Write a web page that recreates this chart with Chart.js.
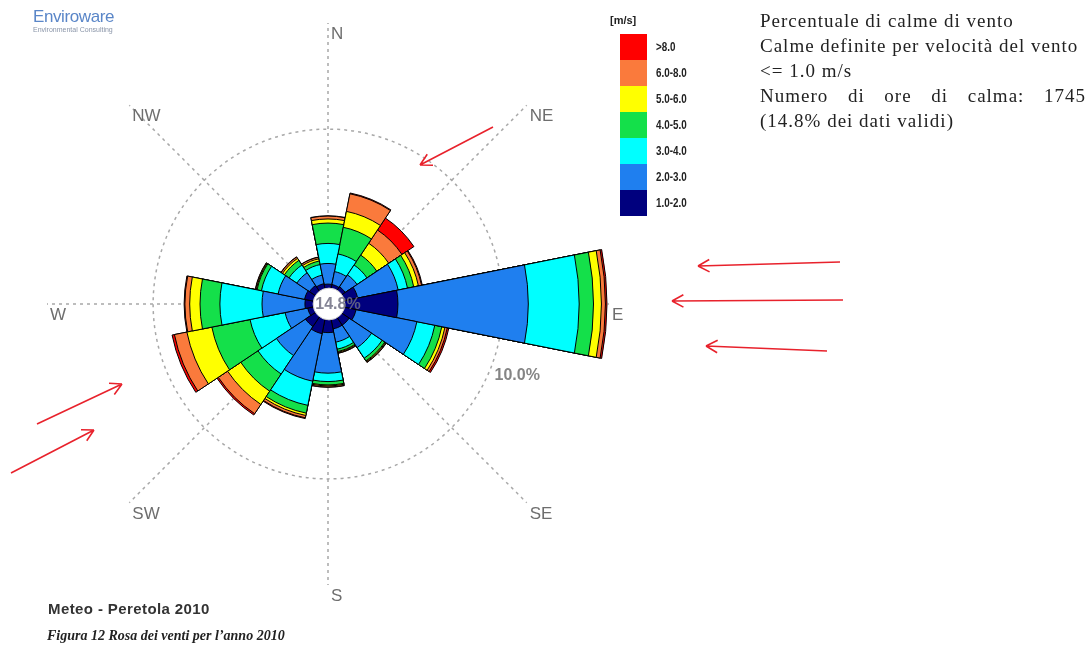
<!DOCTYPE html>
<html>
<head>
<meta charset="utf-8">
<script src="https://cdn.jsdelivr.net/npm/chart.js@4.4.0/dist/chart.umd.min.js"></script>
<style>
    body { margin: 0; background: #fff; width: 1089px; height: 651px; overflow: hidden; position: relative; font-family: "Liberation Sans", Arial, sans-serif; }
    #wrap { position: absolute; left: 0; top: 0; width: 1089px; height: 651px; }
    .logo { position: absolute; left: 33px; top: 8px; color: #5a86c8; font-size: 17px; letter-spacing: -0.4px; line-height: 18px; }
    .logo small { display: block; font-size: 7px; line-height: 8px; color: #8a95a8; letter-spacing: 0; }
    #legend { position: absolute; left: 610px; top: 14px; }
    #legend .unit { font-size: 11px; font-weight: bold; color: #222; margin-bottom: 8px; }
    #legend .row { display: flex; align-items: center; height: 26px; }
    #legend .sw { width: 27px; height: 26px; margin-left: 10px; }
    #legend .lab { font-size: 12px; font-weight: bold; color: #222; margin-left: 9px; transform: scaleX(0.82); transform-origin: left center; }
    .note { position: absolute; left: 760px; top: 8px; width: 326px; font-family: "Liberation Serif", "DejaVu Serif", serif; font-size: 19px; letter-spacing: 1px; line-height: 25px; color: #222; }
    .note .just { text-align: justify; text-align-last: justify; }
    .station { position: absolute; left: 48px; top: 600px; font-size: 15px; letter-spacing: 0.4px; font-weight: bold; color: #333; }
    .caption { position: absolute; left: 47px; top: 628px; font-family: "Liberation Serif", serif; font-style: italic; font-weight: bold; font-size: 14px; color: #222; }
</style>
</head>
<body>
<div id="wrap"><canvas id="rose"></canvas></div>
<div class="logo">Enviroware<small>Environmental Consulting</small></div>
<div id="legend"></div>
<div class="note">
    <div>Percentuale di calme di vento</div>
    <div>Calme definite per velocità del vento</div>
    <div>&lt;= 1.0 m/s</div>
    <div class="just">Numero di ore di calma: 1745</div>
    <div>(14.8% dei dati validi)</div>
</div>
<div class="station">Meteo - Peretola 2010</div>
<div class="caption">Figura 12 Rosa dei venti per l’anno 2010</div>
<script>
const directions = ['N', 'NNE', 'NE', 'ENE', 'E', 'ESE', 'SE', 'SSE', 'S', 'SSW', 'SW', 'WSW', 'W', 'WNW', 'NW', 'NNW'];
const compassLabels = ['N', 'NE', 'E', 'SE', 'S', 'SW', 'W', 'NW'];
const speedClasses = ['1.0-2.0', '2.0-3.0', '3.0-4.0', '4.0-5.0', '5.0-6.0', '6.0-8.0', '>8.0'];
const classColors = ['#00007e', '#1f7fef', '#00ffff', '#14e04a', '#ffff00', '#fa7a3c', '#ff0000'];

// frequency (%) per direction, one array per speed class
const speed1to2 = [0.25, 0.25, 0.30, 0.90, 3.40, 0.80, 0.60, 0.60, 0.80, 0.90, 0.70, 0.30, 0.45, 0.50, 0.40, 0.30];
const speed2to3 = [1.30, 0.83, 0.90, 2.60, 8.20, 3.90, 1.70, 0.85, 2.55, 3.05, 2.20, 1.45, 2.70, 1.70, 0.96, 0.55];
const speed3to4 = [1.26, 1.13, 0.75, 0.60, 3.20, 1.15, 0.80, 0.45, 0.53, 1.55, 1.40, 2.25, 2.65, 1.07, 0.59, 0.68];
const speed4to5 = [1.28, 1.71, 0.75, 0.40, 0.90, 0.45, 0.20, 0.15, 0.21, 0.50, 1.30, 2.45, 1.25, 0.28, 0.35, 0.23];
const speed5to6 = [0.26, 1.02, 0.90, 0.30, 0.50, 0.20, 0.05, 0.05, 0.06, 0.15, 1.00, 1.60, 0.65, 0.05, 0.15, 0.14];
const speed6to8 = [0.18, 1.13, 1.00, 0.20, 0.25, 0.15, 0.05, 0.05, 0.07, 0.15, 0.70, 0.80, 0.30, 0.05, 0.10, 0.10];
const speedOver8 = [0.02, 0.05, 0.90, 0.05, 0.10, 0.10, 0.02, 0.02, 0.02, 0.05, 0.10, 0.15, 0.05, 0.02, 0.02, 0.02];

const calmPct = 14.8;
const ringValue = 10;

// red hand-drawn arrows on the page: [x1, y1, x2 (head), y2 (head)]
const arrows = [
    [493, 127, 420, 165],
    [840, 262, 698, 266],
    [843, 300, 672, 301],
    [827, 351, 706, 346],
    [37, 424, 122, 384],
    [11, 473, 94, 430]
];

const classSeries = [speed1to2, speed2to3, speed3to4, speed4to5, speed5to6, speed6to8, speedOver8];

// stacked petals: cumulative totals, smallest class drawn on top
const running = directions.map(() => 0);
const datasets = classSeries.map((series, k) => ({
    label: speedClasses[k],
    data: series.map((v, i) => +(running[i] += v).toFixed(3)),
    backgroundColor: classColors[k],
    borderColor: '#000',
    borderWidth: 1
}));

// legend, top class first
document.getElementById('legend').innerHTML = '<div class="unit">[m/s]</div>' +
    speedClasses.map((c, k) => ({ c, col: classColors[k] })).reverse().map(o => `
        <div class="row"><div class="sw" style="background:${o.col}"></div><div class="lab">${o.c}</div></div>
    `).join('');

const roseDecor = {
    id: 'roseDecor',
    beforeDatasetsDraw(chart) {
        const s = chart.scales.r, ctx = chart.ctx;
        const cx = s.xCenter, cy = s.yCenter;
        const len = s.drawingArea - 19;
        ctx.save();
        ctx.strokeStyle = '#a8a8a8';
        ctx.lineWidth = 1.5;
        ctx.setLineDash([3, 4]);
        compassLabels.forEach((lab, i) => {
            const a = i * Math.PI / 4;
            ctx.beginPath();
            ctx.moveTo(cx, cy);
            ctx.lineTo(cx + len * Math.sin(a), cy - len * Math.cos(a));
            ctx.stroke();
        });
        const rr = s.getDistanceFromCenterForValue(ringValue);
        ctx.beginPath();
        ctx.arc(cx, cy, rr, 0, Math.PI * 2);
        ctx.stroke();
        ctx.setLineDash([]);
        const a10 = 112.5 * Math.PI / 180;
        ctx.fillStyle = '#858585';
        ctx.font = 'bold 16px "Liberation Sans", Arial';
        ctx.textAlign = 'left';
        ctx.textBaseline = 'top';
        ctx.fillText(ringValue.toFixed(1) + '%', cx + rr * Math.sin(a10) + 5, cy - rr * Math.cos(a10) - 3);
        ctx.restore();
    },
    afterDatasetsDraw(chart) {
        const s = chart.scales.r, ctx = chart.ctx;
        const cx = s.xCenter, cy = s.yCenter;
        const len = s.drawingArea - 19;
        ctx.save();
        // calm circle
        const r0 = s.getDistanceFromCenterForValue(0);
        ctx.beginPath();
        ctx.arc(cx + 1, cy, r0, 0, Math.PI * 2);
        ctx.fillStyle = '#fff';
        ctx.fill();
        ctx.strokeStyle = '#ccc';
        ctx.lineWidth = 1;
        ctx.stroke();
        ctx.fillStyle = 'rgba(110,110,130,0.85)';
        ctx.font = 'bold 16px "Liberation Sans", Arial';
        ctx.textAlign = 'center';
        ctx.textBaseline = 'middle';
        ctx.fillText(calmPct.toFixed(1) + '%', cx + 10, cy + 1);
        // compass labels
        ctx.fillStyle = '#6e6e6e';
        ctx.font = '17px "Liberation Sans", Arial';
        ctx.textAlign = 'left';
        ctx.textBaseline = 'top';
        compassLabels.forEach((lab, i) => {
            const a = i * Math.PI / 4;
            ctx.fillText(lab, cx + len * Math.sin(a) + 3, cy - len * Math.cos(a) + 3);
        });
        ctx.restore();
    },
    afterDraw(chart) {
        const ctx = chart.ctx;
        ctx.save();
        ctx.strokeStyle = '#e8222c';
        ctx.lineWidth = 1.6;
        arrows.forEach(([x1, y1, x2, y2]) => {
            const ang = Math.atan2(y2 - y1, x2 - x1);
            ctx.beginPath();
            ctx.moveTo(x1, y1);
            ctx.lineTo(x2, y2);
            [-0.5, 0.5].forEach(d => {
                ctx.moveTo(x2, y2);
                ctx.lineTo(x2 - 13 * Math.cos(ang + d), y2 - 13 * Math.sin(ang + d));
            });
            ctx.stroke();
        });
        ctx.restore();
    }
};

new Chart(document.getElementById('rose'), {
    type: 'polarArea',
    data: { labels: directions, datasets: datasets },
    options: {
        responsive: true,
        maintainAspectRatio: false,
        animation: false,
        layout: { padding: { left: 28, right: 461, top: 4, bottom: 47 } },
        scales: {
            r: {
                min: -1,
                max: 17.87,
                startAngle: -11.25,
                ticks: { display: false },
                grid: { display: false },
                angleLines: { display: false },
                pointLabels: { display: false }
            }
        },
        plugins: {
            legend: { display: false },
            tooltip: { enabled: true }
        }
    },
    plugins: [roseDecor]
});
</script>
</body>
</html>
